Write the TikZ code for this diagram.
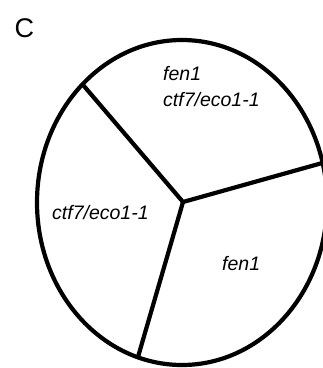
\documentclass[tikz,border=0pt]{standalone}
\usepackage{fontspec}
\setmainfont{Liberation Sans}
\begin{document}
\begin{tikzpicture}[x=1pt,y=-1pt,
  outline/.style={line width=4.2pt,black},
  genolabel/.style={inner sep=0pt,anchor=base west,align=left,font=\fontsize{19.5}{26}\selectfont\itshape},
  panellabel/.style={inner sep=0pt,anchor=base west,font=\fontsize{27}{30}\selectfont}]
\useasboundingbox (0,0) rectangle (323,368);
\clip (0,0) rectangle (323,368);
\node[panellabel] (lbl) at (14.5,37) {C};
\coordinate (ctr) at (183,202);
\coordinate (e1) at (82.5,84.3);
\coordinate (e2) at (322.6,162.9);
\coordinate (e3) at (137.9,357.3);
\draw[outline] (182,202.5) ellipse [x radius=145pt, y radius=162.5pt];
\draw[outline] (e1) -- (ctr) -- (e2);
\draw[outline] (ctr) -- (e3);
\node[genolabel] (top) at (163,106) {fen1\\ctf7/eco1-1};
\node[genolabel] (left) at (52,219) {ctf7/eco1-1};
\node[genolabel] (right) at (222,270) {fen1};
\end{tikzpicture}
\end{document}
